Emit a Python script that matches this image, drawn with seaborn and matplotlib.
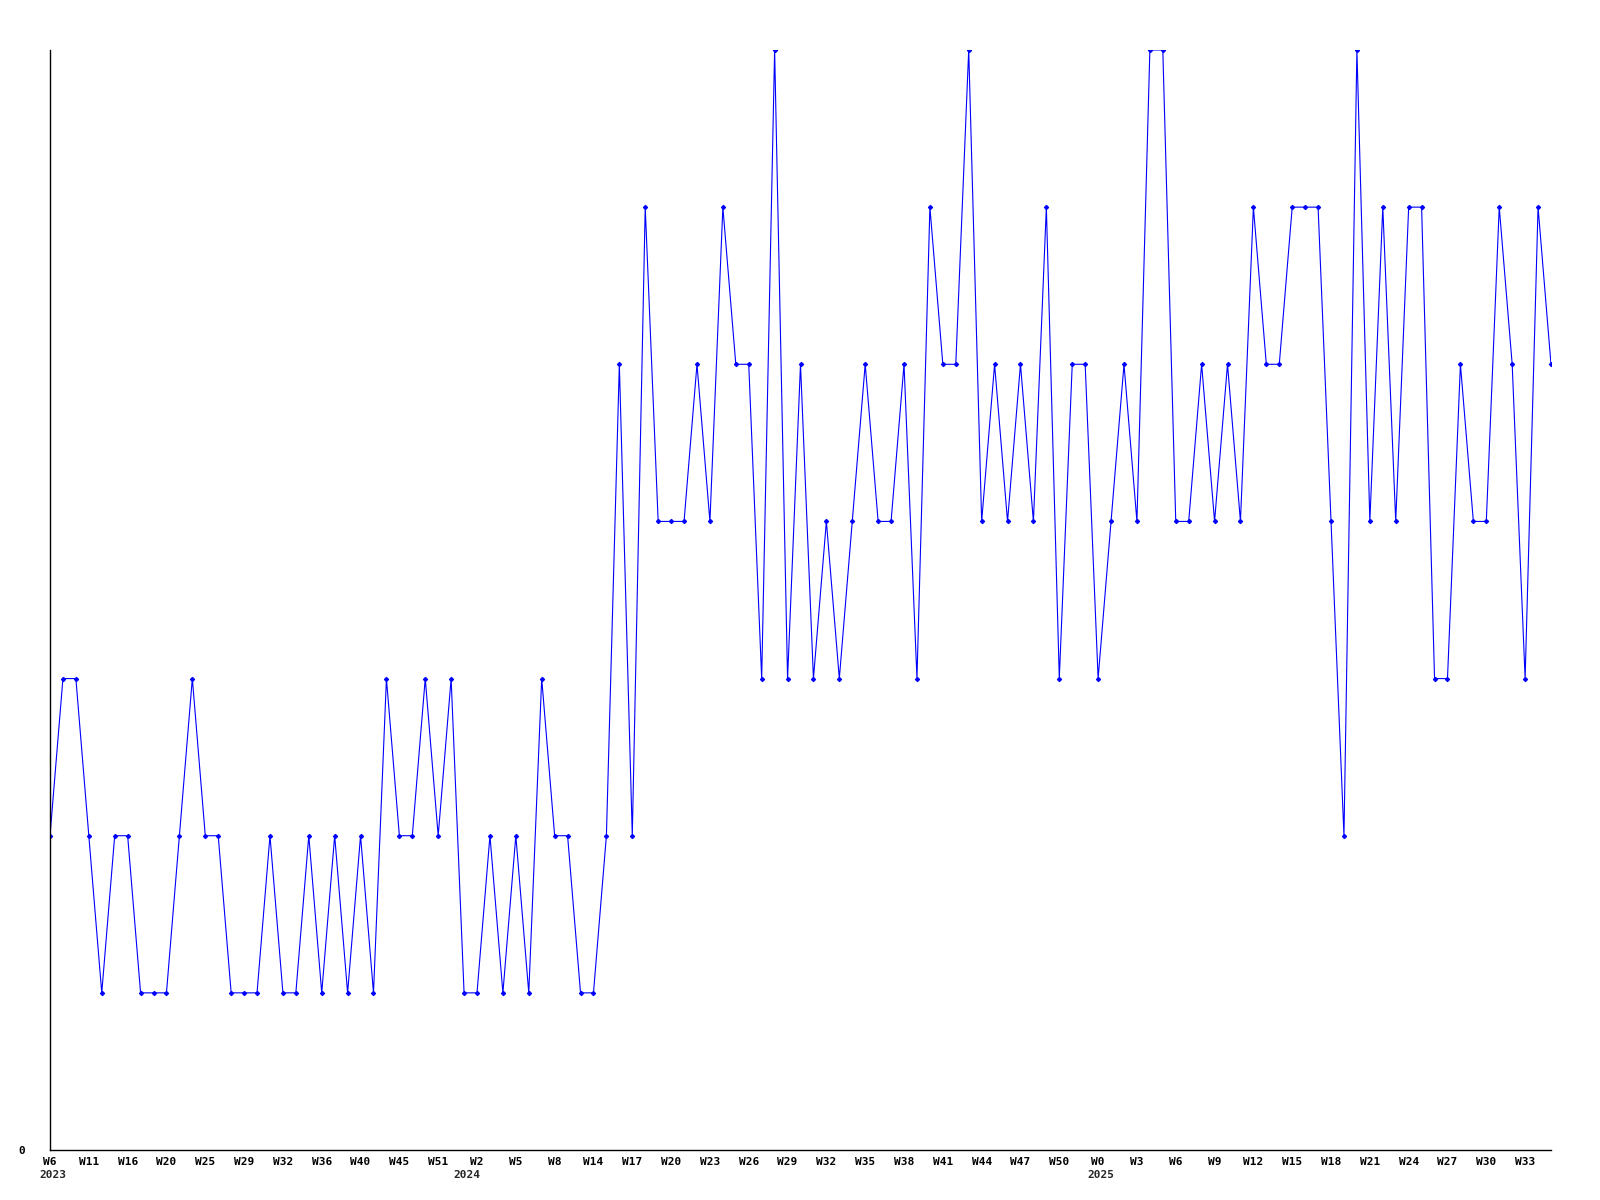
import numpy as np
import pandas as pd
import matplotlib
matplotlib.use("Agg")
import matplotlib.pyplot as plt
import seaborn as sns

# weekly counts, one point per week shown on the chart
counts = [2, 3, 3, 2, 1, 2, 2, 1, 1, 1, 2, 3, 2, 2, 1, 1, 1, 2, 1, 1,
          2, 1, 2, 1, 2, 1, 3, 2, 2, 3, 2, 3, 1, 1, 2, 1, 2, 1, 3, 2,
          2, 1, 1, 2, 5, 2, 6, 4, 4, 4, 5, 4, 6, 5, 5, 3, 7, 3, 5, 3,
          4, 3, 4, 5, 4, 4, 5, 3, 6, 5, 5, 7, 4, 5, 4, 5, 4, 6, 3, 5,
          5, 3, 4, 5, 4, 7, 7, 4, 4, 5, 4, 5, 4, 6, 5, 5, 6, 6, 6, 4,
          2, 7, 4, 6, 4, 6, 6, 3, 3, 5, 4, 4, 6, 5, 3, 6, 5]

# one label every third point
tick_labels = ["W6", "W11", "W16", "W20", "W25", "W29", "W32", "W36", "W40", "W45",
               "W51", "W2", "W5", "W8", "W14", "W17", "W20", "W23", "W26", "W29",
               "W32", "W35", "W38", "W41", "W44", "W47", "W50", "W0", "W3", "W6",
               "W9", "W12", "W15", "W18", "W21", "W24", "W27", "W30", "W33"]
tick_step = 3

# year shown under the first point of that year
year_labels = ["2023", "2024", "2025"]
year_points = [0, 32, 81]

df = pd.DataFrame({"point": np.arange(len(counts)), "count": counts})

sns.set_style("white")
plt.rcParams["font.family"] = ["DejaVu Sans Mono"]
plt.rcParams["font.weight"] = "bold"

fig = plt.figure(figsize=(16, 12), dpi=100)
ax = fig.add_axes([50 / 1600, 50 / 1200, 1501 / 1600, 1100 / 1200])

sns.lineplot(data=df, x="point", y="count", ax=ax, color="#0000ff",
             linewidth=0.8, marker="D", markersize=2.2, markeredgewidth=0.8,
             markeredgecolor="#0000ff", markerfacecolor="#0000ff")

ax.set_xlim(0, len(counts) - 1)
ax.set_ylim(0, max(counts))

for side in ["top", "right"]:
    ax.spines[side].set_visible(False)
for side in ["left", "bottom"]:
    ax.spines[side].set_color("black")
    ax.spines[side].set_linewidth(1)

tick_pos = df["point"].values[::tick_step]
ax.set_xticks(tick_pos)
ax.set_xticklabels(tick_labels)
ax.tick_params(axis="x", length=0, pad=5, labelsize=8, colors="black")

ax.set_yticks([0])
ax.set_yticklabels(["0"])
ax.tick_params(axis="y", length=0, pad=18, labelsize=8, colors="black")

ax.set_xlabel("")
ax.set_ylabel("")
ax.grid(False)

for lab, p in zip(year_labels, year_points):
    ax.annotate(lab, xy=(p, 0), xycoords=("data", "axes fraction"),
                xytext=(3, -20), textcoords="offset pixels",
                ha="center", va="top", fontsize=8, fontweight="bold",
                annotation_clip=False)

fig.savefig("out.png", dpi=100)
